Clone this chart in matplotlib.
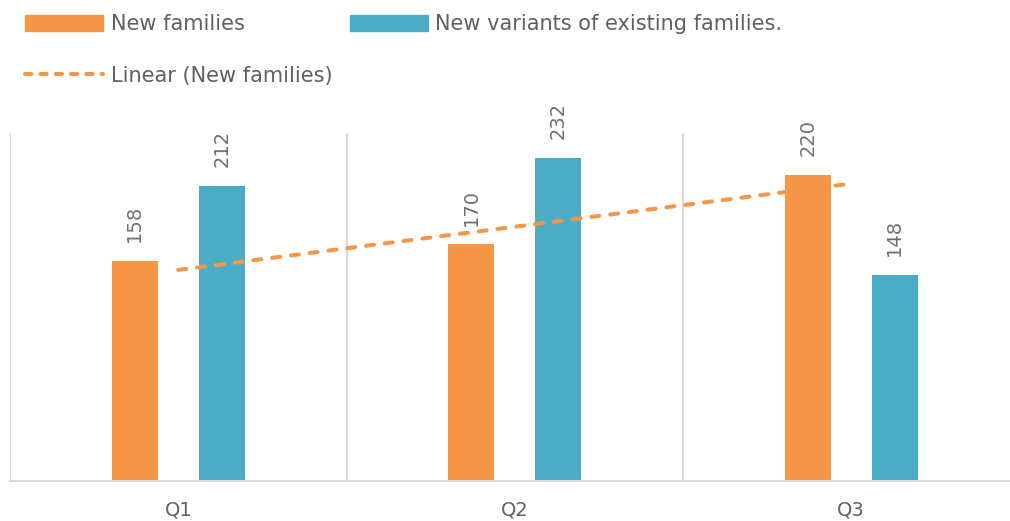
import numpy as np
import matplotlib
matplotlib.use("Agg")
import matplotlib.pyplot as plt
from matplotlib.patches import Patch
from matplotlib.lines import Line2D

# data
quarters = ["Q1", "Q2", "Q3"]
new_families = [158, 170, 220]
new_variants = [212, 232, 148]

orange = "#F79646"
teal = "#4BACC6"
grid_col = "#D9D9D9"
text_col = "#606060"

plt.rcParams["font.family"] = ["DejaVu Sans"]

fig = plt.figure(figsize=(10.1, 5.21), dpi=100)
ax = fig.add_axes([10 / 1010, 40 / 521, 1009.5 / 1010, 348 / 521])

x = np.arange(len(quarters))
w = 0.137
off = 0.129

b1 = ax.bar(x - off, new_families, w, color=orange, zorder=2)
b2 = ax.bar(x + off, new_variants, w, color=teal, zorder=2)

# value labels above bars
for bars, vals in ((b1, new_families), (b2, new_variants)):
    for rect, v in zip(bars, vals):
        ax.annotate(str(v), (rect.get_x() + rect.get_width() / 2, rect.get_height()),
                    xytext=(0, 13.5), textcoords="offset points",
                    rotation=90, ha="center", va="bottom",
                    fontsize=14, color="#707070")

# linear trend on new families
slope, icpt = np.polyfit(x, new_families, 1)
ax.plot(x[[0, -1]], slope * x[[0, -1]] + icpt, color=orange, lw=2.9,
        linestyle=(0, (2, 2.7)), dash_capstyle="round", zorder=3)

# category separators
for sep in np.arange(-0.5, len(quarters) - 0.5, 1.0):
    ax.axvline(sep, color=grid_col, lw=1.5, zorder=1)

ax.set_xlim(-0.5, len(quarters) - 0.5)
ax.set_ylim(0, 250)
for s in ("top", "right", "left"):
    ax.spines[s].set_visible(False)
ax.spines["bottom"].set_color(grid_col)
ax.spines["bottom"].set_linewidth(1.5)
ax.set_yticks([])
ax.set_xticks(x)
ax.set_xticklabels(quarters, fontsize=14, color=text_col)
ax.tick_params(axis="x", length=0, pad=14)

handles = [Patch(color=orange),
           Line2D([0], [0], color=orange, lw=2.9, linestyle=(0, (1.6, 2.2)),
                  dash_capstyle="round"),
           Patch(color=teal)]
labels = ["New families", "Linear (New families)", "New variants of existing families."]
fig.legend(handles, labels, ncol=2, loc="upper left", bbox_to_anchor=(17 / 1010, 1 - 6 / 521),
           frameon=False, fontsize=15, labelcolor=text_col, handlelength=3.75,
           handleheight=0.75, handletextpad=0.35, columnspacing=0.85, labelspacing=1.5,
           borderaxespad=0)

fig.savefig("out.png", dpi=100)
